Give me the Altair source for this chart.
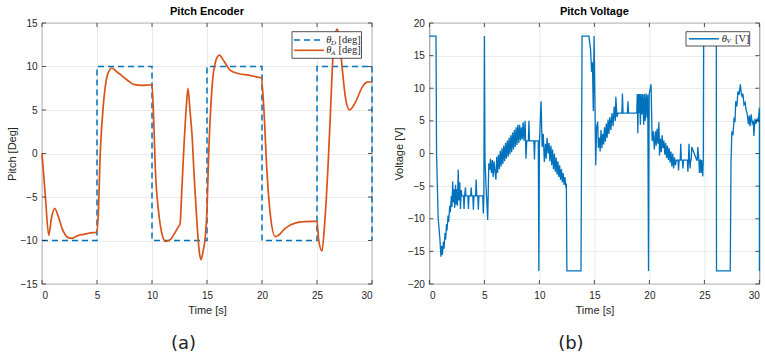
import altair as alt
import pandas as pd

# ---------------- data ----------------
# Panel (a): desired pitch (square wave) and actual pitch
t_desired = [0, 5, 5, 10, 10, 15, 15, 20, 20, 25, 25, 30, 30]
v_desired = [-10, -10, 10, 10, -10, -10, 10, 10, -10, -10, 10, 10, -10]

t_actual = [0, 0.3, 0.61, 0.85, 1.15, 1.5, 1.82, 2.1, 2.43, 2.73, 3.0, 3.34, 3.8, 4.24, 4.6, 4.95,
            5.1, 5.3, 5.6, 5.9, 6.1, 6.36, 6.82, 7.2, 7.58, 8.0, 8.33, 9.09, 9.6, 10.0,
            10.15, 10.3, 10.6, 10.97, 11.2, 11.67, 12.0, 12.4, 12.55, 12.7, 12.88, 13.1, 13.27,
            13.45, 13.64, 13.85, 14.1, 14.3, 14.45, 14.65, 14.85, 15.0, 15.15, 15.45, 15.76,
            16.13, 16.5, 17.13, 17.88, 18.8, 19.5, 19.94, 20.15, 20.45, 20.76, 21.2, 21.5, 22.1,
            23.0, 23.95, 24.5, 25.0, 25.15, 25.45, 25.7, 26.0, 26.2, 26.4, 26.6, 26.85, 27.05,
            27.3, 27.6, 27.95, 28.5, 29.1, 29.55, 30]
v_actual = [0, -4.8, -9.4, -7.5, -6.3, -7.3, -8.6, -9.3, -9.7, -9.75, -9.6, -9.4, -9.3, -9.17, -9.1, -9.05,
            -7.45, 0.2, 5.9, 8.8, 9.5, 9.83, 9.37, 9.0, 8.6, 8.2, 7.95, 7.84, 7.85, 7.9,
            4.0, -1.7, -6.7, -9.55, -10.1, -9.9, -9.3, -8.4, -8.1, -4.5, 0.2, 5.0, 7.5,
            5.0, 2.1, -3.0, -8.2, -11.3, -12.2, -11.2, -9.5, -6.5, -0.2, 7.45, 10.5,
            11.3, 10.7, 9.56, 9.17, 9.0, 8.8, 8.68, 5.55, -2.1, -7.07, -9.55, -9.4, -8.6,
            -8.0, -7.83, -7.8, -7.8, -9.9, -11.2, -8.0, -1.5, 4.0, 10.0, 13.3, 14.3, 13.0,
            9.7, 6.3, 5.0, 5.9, 7.6, 8.2, 8.25]

# Panel (b): pitch voltage
t_volt = [0, 0.6, 0.65, 0.8, 0.95, 1.05, 1.12, 1.18, 1.28, 1.33, 1.42, 1.47, 1.56, 1.6, 1.7, 1.75,
          1.85, 1.9, 2.0, 2.05, 2.12, 2.17, 2.25, 2.3, 2.38, 2.43, 2.5, 2.55, 2.62, 2.68, 2.76,
          2.82, 2.9, 2.95, 3.1, 3.15, 3.2, 3.28, 3.32, 3.5, 3.55, 3.6, 3.75, 3.8, 3.85, 3.95,
          4.0, 4.05, 4.2, 4.25, 4.3, 4.4, 4.45, 4.5, 4.85, 4.9, 4.95, 5.0, 5.05, 5.15, 5.3,
          5.4, 5.5, 5.55, 5.65, 5.72, 5.8, 5.88, 5.95, 6.05, 6.12, 6.2, 6.28, 6.36, 6.44, 6.52,
          6.6, 6.68, 6.76, 6.84, 6.92, 7.0, 7.08, 7.16, 7.24, 7.32, 7.4, 7.48, 7.56, 7.64, 7.72,
          7.8, 7.88, 7.96, 8.04, 8.12, 8.2, 8.28, 8.36, 8.44, 8.52, 8.6, 8.7, 8.78, 8.85, 9.0,
          9.05, 9.1, 9.5, 9.55, 9.6, 9.9, 9.95, 10.0, 10.15, 10.25, 10.35, 10.45, 10.55, 10.62,
          10.7, 10.8, 10.88, 10.95, 11.05, 11.12, 11.2, 11.28, 11.36, 11.44, 11.52, 11.6, 11.68,
          11.76, 11.84, 11.92, 12.0, 12.08, 12.16, 12.24, 12.32, 12.4, 12.45, 12.5, 13.78, 13.88,
          14.5, 14.65, 14.75, 14.82, 14.9, 14.97, 15.05, 15.12, 15.2, 15.3, 15.36, 15.45, 15.52,
          15.6, 15.68, 15.76, 15.84, 15.92, 16.0, 16.08, 16.16, 16.24, 16.32, 16.4, 16.5, 16.6,
          16.7, 16.8, 16.9, 16.95, 17.05, 17.15, 17.5, 17.55, 17.6, 18.0, 18.05, 18.1, 18.85,
          18.9, 18.95, 19.0, 19.05, 19.12, 19.18, 19.25, 19.32, 19.4, 19.48, 19.55, 19.62, 19.7,
          19.78, 19.85, 19.92, 19.98, 20.15, 20.25, 20.35, 20.45, 20.55, 20.62, 20.7, 20.78,
          20.86, 20.92, 21.0, 21.08, 21.16, 21.24, 21.32, 21.4, 21.48, 21.56, 21.64, 21.72, 21.8,
          21.88, 21.96, 22.04, 22.12, 22.2, 22.28, 22.36, 22.45, 22.6, 22.65, 22.7, 22.8, 22.85,
          22.9, 23.0, 23.05, 23.1, 23.45, 23.5, 23.55, 23.6, 23.65, 23.7, 23.75, 23.8, 23.85,
          24.3, 24.35, 24.4, 24.5, 24.55, 24.6, 24.65, 24.7, 24.75, 24.85, 24.9, 24.93, 26.08,
          26.1, 27.35, 27.42, 27.5, 27.6, 27.7, 27.78, 27.85, 27.95, 28.05, 28.15, 28.27, 28.35,
          28.45, 28.5, 28.6, 28.7, 28.8, 28.9, 29.0, 29.08, 29.15, 29.25, 29.35, 29.45, 29.5,
          29.6, 29.7, 29.8, 29.9, 30.0, 30.0]
v_volt = [18, 18, 0, -10, -13, -15.8, -14.2, -15.5, -13.5, -14.6, -12.2, -13.2, -10.8, -11.8, -9.5, -10.5,
          -8, -9, -6.5, -8.2, -4.3, -7.5, -5.5, -8.3, -4.8, -7.8, -5.5, -8, -2.5, -7.2, -4.4,
          -8.5, -5.6, -6.5, -6.5, -8.5, -6.5, -5.2, -6.5, -6.5, -8.5, -6.5, -6.5, -5.2, -6.5, -6.5,
          -8.6, -6.5, -6.5, -4.0, -6.5, -6.5, -8.6, -6.5, -6.5, -9.2, -6.5, 18, -1, -5, -10.2,
          -1.5, -2.5, -0.8, -3, -1, -3.6, -1.2, -2.5, -4, -0.5, -3, -0.2, -2.4, 0.4, -2,
          0.8, -1.6, 1.2, -1.2, 1.6, -0.8, 2.0, -0.5, 2.4, -0.1, 2.8, 0.2, 3.2, 0.6, 3.6,
          1.0, 4.0, 1.3, 4.4, 1.6, 4.4, 2.0, 4.0, 2.2, 4.8, 1.95, 5.0, -0.8, 1.95, 1.95,
          5.0, 1.95, 1.95, -0.9, 1.95, 1.95, -18, 1.5, 8.0, 1, 3, -1.3, 1.5, -0.8,
          2.4, 0, 1.6, -1.2, 1.2, -1.8, 0.6, -2.4, 0, -2.8, -0.6, -3.2, -1.2,
          -3.6, -1.8, -4.0, -2.4, -4.4, -3.0, -4.8, -3.6, -5.2, -4.6, -18, -18, 18,
          18, 16, 12.5, 14, 6.5, 18, 8, -1.8, 4.0, 4.9, 0.9, 2.4, 0.3,
          3.6, 0.8, 3.0, 1.4, 4.0, 1.8, 4.6, 2.4, 5.2, 3.0, 5.6, 3.6, 6.2,
          4.2, 7.2, 5.0, 8.7, 5.6, 6.2, 6.2, 9.2, 6.2, 6.2, 8.0, 6.2, 6.2,
          9.1, 3.1, 9.1, 6.2, 9.1, 4.4, 9.1, 6.0, 9.1, 4.4, 9.1, 5.0, 9.2,
          5.5, 9.0, -18, 9.1, 10.6, 1.9, 3.4, 0.6, 3.4, 1.2, 3.8, 1.5,
          4.8, -0.3, 2.3, 0.2, 2.8, 0.8, 2.0, -0.2, 1.6, -0.7, 1.2, -1.0, 0.8,
          -1.4, 0.3, -2.0, 0, -2.3, -0.6, -1.8, -1, -1, -2.6, -1, -1, 1.5,
          -1, -1, -2.3, -1, -1, -2.8, -1, 1.5, -1, -2.3, -1, -1, 1.0,
          -1, -1, 1.0, -1, -3.0, -1, -1, -3.0, -1, -3.5, -1, 18, 18,
          -18, -18, -1.2, 3.4, 2.8, 5.5, 4.8, 8.0, 7.2, 9.5, 9.0, 10.6, 9.2,
          8.6, 9.2, 7.5, 7.8, 6.6, 6.0, 4.5, 5.8, 4.2, 6.0, 4.6, 5.0, 2.7,
          5.3, 4.6, 5.3, 5.0, 7.0, -18]

x_ticks = [0, 5, 10, 15, 20, 25, 30]
y_ticks_a = [-15, -10, -5, 0, 5, 10, 15]
y_ticks_b = [-20, -15, -10, -5, 0, 5, 10, 15, 20]

BLUE = "#0072BD"
ORANGE = "#D95319"
INK = "#262626"
W, H = 330, 261


def mk_axis(vals, title, lp, tp):
    return alt.Axis(values=vals, title=title, grid=True, ticks=False, domain=False,
                    labelPadding=lp, titlePadding=tp, format="d")


def ticks_layers(xs, ys, xscale, yscale, xaxis, yaxis):
    dx = pd.DataFrame({"v": xs})
    dy = pd.DataFrame({"v": ys})
    common = dict(color=INK, strokeWidth=0.8)
    bottom = alt.Chart(dx).mark_rule(**common).encode(
        x=alt.X("v:Q", scale=xscale, axis=xaxis), y=alt.value(H), y2=alt.value(H - 4))
    top = alt.Chart(dx).mark_rule(**common).encode(
        x=alt.X("v:Q", scale=xscale, axis=xaxis), y=alt.value(0), y2=alt.value(4))
    left = alt.Chart(dy).mark_rule(**common).encode(
        y=alt.Y("v:Q", scale=yscale, axis=yaxis), x=alt.value(0), x2=alt.value(4))
    right = alt.Chart(dy).mark_rule(**common).encode(
        y=alt.Y("v:Q", scale=yscale, axis=yaxis), x=alt.value(W), x2=alt.value(W - 4))
    return [bottom, top, left, right]


one = pd.DataFrame({"a": [0]})


def txt(s, x, y, size=10.5, italic=False, serif=True):
    kw = dict(text=s, fontSize=size, align="left", baseline="middle", color=INK,
              font="Liberation Serif" if serif else "Liberation Sans")
    if italic:
        kw["fontStyle"] = "italic"
    return alt.Chart(one).mark_text(**kw).encode(x=alt.value(x), y=alt.value(y))


# ---------------- panel (a) ----------------
xs_a = alt.Scale(domain=[0, 30], nice=False, zero=False)
ys_a = alt.Scale(domain=[-15, 15], nice=False, zero=False)
xax = mk_axis(x_ticks, "Time [s]", 6, 4)
yax_a = mk_axis(y_ticks_a, "Pitch [Deg]", 5, 3)

df_d = pd.DataFrame({"t": t_desired, "v": v_desired, "i": range(len(t_desired))})
df_a = pd.DataFrame({"t": t_actual, "v": v_actual, "i": range(len(t_actual))})

desired = alt.Chart(df_d).mark_line(color=BLUE, strokeWidth=1.5, strokeDash=[6, 4]).encode(
    x=alt.X("t:Q", scale=xs_a, axis=xax),
    y=alt.Y("v:Q", scale=ys_a, axis=yax_a),
    order="i:Q")
actual = alt.Chart(df_a).mark_line(color=ORANGE, strokeWidth=1.7, interpolate="monotone").encode(
    x=alt.X("t:Q", scale=xs_a, axis=xax), y=alt.Y("v:Q", scale=ys_a, axis=yax_a), order="i:Q")

leg_a = [
    alt.Chart(one).mark_rect(fill="white", stroke=INK, strokeWidth=0.8).encode(
        x=alt.value(250), x2=alt.value(319.5), y=alt.value(8.7), y2=alt.value(35.3)),
    alt.Chart(one).mark_rule(color=BLUE, strokeWidth=1.5, strokeDash=[6, 4]).encode(
        x=alt.value(252), x2=alt.value(282), y=alt.value(17)),
    alt.Chart(one).mark_rule(color=ORANGE, strokeWidth=1.6).encode(
        x=alt.value(252), x2=alt.value(282), y=alt.value(27.3)),
    txt("θ", 284.2, 17, 10.5, italic=True),
    txt("D", 289.0, 19.5, 7, italic=True),
    txt("[deg]", 296.5, 17, 10.5),
    txt("θ", 284.2, 27.3, 10.5, italic=True),
    txt("A", 289.0, 29.8, 7, italic=True),
    txt("[deg]", 296.5, 27.3, 10.5),
]

label_a = alt.Chart(one).mark_text(text="(a)", fontSize=18, font="DejaVu Sans", color="#222",
                                   align="center", baseline="middle").encode(
    x=alt.value(141.5), y=alt.value(H + 60))

panel_a = alt.layer(desired, actual,
                    *ticks_layers(x_ticks, y_ticks_a, xs_a, ys_a, xax, yax_a),
                    *leg_a, label_a).properties(
    width=W, height=H,
    title=alt.TitleParams("Pitch Encoder", fontSize=11, fontWeight="bold", offset=1,
                          font="Liberation Sans", color="#000"))

# ---------------- panel (b) ----------------
xs_b = alt.Scale(domain=[0, 30], nice=False, zero=False)
ys_b = alt.Scale(domain=[-20, 20], nice=False, zero=False)
yax_b = mk_axis(y_ticks_b, "Voltage [V]", 5, 3)

df_v = pd.DataFrame({"t": t_volt, "v": v_volt, "i": range(len(t_volt))})

volt = alt.Chart(df_v).mark_line(color=BLUE, strokeWidth=1.3).encode(
    x=alt.X("t:Q", scale=xs_b, axis=xax),
    y=alt.Y("v:Q", scale=ys_b, axis=yax_b),
    order="i:Q")

leg_b = [
    alt.Chart(one).mark_rect(fill="white", stroke=INK, strokeWidth=0.8).encode(
        x=alt.value(256.6), x2=alt.value(320.3), y=alt.value(8.7), y2=alt.value(23)),
    alt.Chart(one).mark_rule(color=BLUE, strokeWidth=1.5).encode(
        x=alt.value(259.5), x2=alt.value(289.5), y=alt.value(15.8)),
    txt("θ", 292.3, 15.8, 10.5, italic=True),
    txt("V", 297.2, 18.3, 7, italic=True),
    txt("[V]", 305.5, 15.8, 10.5),
]

label_b = alt.Chart(one).mark_text(text="(b)", fontSize=18, font="DejaVu Sans", color="#222",
                                   align="center", baseline="middle").encode(
    x=alt.value(141.5), y=alt.value(H + 60))

panel_b = alt.layer(volt, *ticks_layers(x_ticks, y_ticks_b, xs_b, ys_b, xax, yax_b),
                    *leg_b, label_b).properties(
    width=W, height=H,
    title=alt.TitleParams("Pitch Voltage", fontSize=11, fontWeight="bold", offset=1,
                          font="Liberation Sans", color="#000"))

chart = alt.hconcat(panel_a, panel_b, spacing=57.4, bounds="flush").properties(
    padding={"left": 5, "top": 5, "right": 0, "bottom": 0},
    background="white",
).configure_view(stroke=INK, strokeWidth=0.8).configure_axis(
    gridColor="#e4e4e4", gridWidth=0.8, labelFont="Liberation Sans", labelFontSize=10,
    labelColor=INK, titleFont="Liberation Sans", titleFontSize=11, titleFontWeight="normal",
    titleColor=INK,
)

chart.save("out.html", embed_options={"renderer": "svg", "actions": False})
